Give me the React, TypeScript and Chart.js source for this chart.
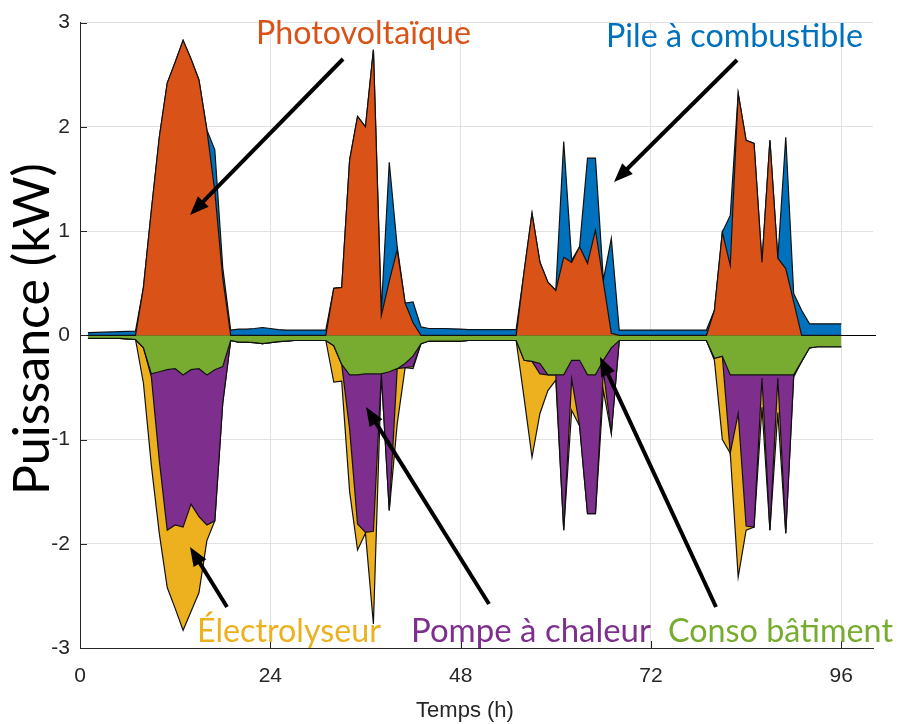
import React, { useEffect, useRef } from 'react';
import { Chart, registerables } from 'chart.js';

Chart.register(...registerables);

// Time axis (hours)
const hours = [
  1, 2, 3, 4, 5, 6, 7, 8, 9, 10, 11, 12,
  13, 14, 15, 16, 17, 18, 19, 20, 21, 22, 23, 24,
  25, 26, 27, 28, 29, 30, 31, 32, 33, 34, 35, 36,
  37, 38, 39, 40, 41, 42, 43, 44, 45, 46, 47, 48,
  49, 50, 51, 52, 53, 54, 55, 56, 57, 58, 59, 60,
  61, 62, 63, 64, 65, 66, 67, 68, 69, 70, 71, 72,
  73, 74, 75, 76, 77, 78, 79, 80, 81, 82, 83, 84,
  85, 86, 87, 88, 89, 90, 91, 92, 93, 94, 95, 96,
];

// Production (kW)
const photovoltaique = [
  0, 0, 0, 0, 0, 0, 0, 0.46, 1.2, 1.9, 2.42, 2.62,
  2.83, 2.65, 2.45, 1.97, 1.38, 0.55, 0, 0, 0, 0, 0, 0,
  0, 0, 0, 0, 0, 0, 0, 0.45, 0.46, 1.68, 2.1, 2.0,
  2.74, 0.19, 0.52, 0.82, 0.31, 0.12, 0, 0, 0, 0, 0, 0,
  0, 0, 0, 0, 0, 0, 0, 0.61, 1.17, 0.7, 0.51, 0.43,
  0.75, 0.7, 0.85, 0.69, 1.01, 0.51, 0.02, 0, 0, 0, 0, 0,
  0, 0, 0, 0, 0, 0, 0, 0.24, 0.99, 0.67, 2.32, 1.87,
  1.84, 0.7, 1.87, 0.74, 0.64, 0.32, 0, 0, 0, 0, 0, 0,
];

const pileCombustible = [
  0.025, 0.028, 0.03, 0.032, 0.035, 0.038, 0.04, 0, 0, 0, 0, 0,
  0, 0, 0, 0, 0.4, 0.1, 0.05, 0.06, 0.06, 0.065, 0.075, 0.065,
  0.055, 0.05, 0.05, 0.05, 0.05, 0.05, 0.05, 0, 0, 0, 0, 0,
  0, 0.05, 1.14, 0.03, 0, 0.2, 0.08, 0.065, 0.065, 0.065, 0.062, 0.06,
  0.055, 0.055, 0.055, 0.055, 0.055, 0.055, 0.055, 0, 0, 0, 0, 0,
  1.11, 0.02, 0, 1.01, 0.69, 0.02, 0.91, 0.05, 0.05, 0.05, 0.05, 0.05,
  0.05, 0.05, 0.05, 0.05, 0.05, 0.05, 0.05, 0, 0, 0.48, 0, 0,
  0, 0, 0, 0, 1.26, 0.08, 0.24, 0.11, 0.11, 0.11, 0.11, 0.11,
];

// Consumption (kW, negative)
const consoBatiment = [
  -0.03, -0.03, -0.03, -0.03, -0.03, -0.035, -0.04, -0.12, -0.37, -0.35, -0.33, -0.32,
  -0.38, -0.33, -0.32, -0.38, -0.33, -0.3, -0.05, -0.065, -0.065, -0.07, -0.08, -0.07,
  -0.06, -0.055, -0.05, -0.05, -0.05, -0.05, -0.05, -0.1, -0.28, -0.38, -0.38, -0.37,
  -0.37, -0.37, -0.35, -0.32, -0.27, -0.2, -0.08, -0.055, -0.055, -0.055, -0.055, -0.055,
  -0.05, -0.05, -0.05, -0.05, -0.05, -0.05, -0.05, -0.24, -0.25, -0.27, -0.38, -0.38,
  -0.38, -0.24, -0.24, -0.38, -0.38, -0.24, -0.12, -0.05, -0.05, -0.05, -0.05, -0.05,
  -0.05, -0.05, -0.05, -0.05, -0.05, -0.05, -0.05, -0.22, -0.2, -0.38, -0.38, -0.38,
  -0.38, -0.38, -0.38, -0.38, -0.38, -0.38, -0.25, -0.12, -0.11, -0.11, -0.11, -0.11,
];

const pompeChaleur = [
  0, 0, 0, 0, 0, 0, 0, 0, -0.03, -0.85, -1.54, -1.5,
  -1.46, -1.29, -1.42, -1.44, -1.45, -0.35, 0, 0, 0, 0, 0, 0,
  0, 0, 0, 0, 0, 0, 0, 0, 0, -0.52, -1.43, -1.52,
  -1.51, 0, -1.33, 0, -0.04, -0.1, 0, 0, 0, 0, 0, 0,
  0, 0, 0, 0, 0, 0, 0, 0, 0, -0.1, 0, 0,
  -1.49, -0.18, -0.63, -1.33, -1.33, -0.1, -0.82, 0, 0, 0, 0, 0,
  0, 0, 0, 0, 0, 0, 0, 0, 0, -0.75, -0.37, -1.45,
  -1.46, -0.03, -1.49, -0.03, -1.52, 0, 0, 0, 0, 0, 0, 0,
];

const electrolyseur = [
  0, 0, 0, 0, 0, 0, 0, -0.34, -0.85, -0.7, -0.55, -0.8,
  -0.99, -1.03, -0.73, -0.15, 0, 0, 0, 0, 0, 0, 0, 0,
  0, 0, 0, 0, 0, 0, 0, -0.35, -0.16, -0.6, -0.25, -0.01,
  -0.89, 0, 0, -0.53, 0, -0.02, 0, 0, 0, 0, 0, 0,
  0, 0, 0, 0, 0, 0, 0, -0.36, -0.92, -0.38, -0.15, -0.05,
  0, -0.3, 0, 0, 0, -0.19, 0, 0, 0, 0, 0, 0,
  0, 0, 0, 0, 0, 0, 0, -0.02, -0.8, 0, -1.57, -0.04,
  0, -0.28, 0, -0.33, 0, -0.02, 0, 0, 0, 0, 0, 0,
];

const xTickValues = [0, 24, 48, 72, 96];
const yTickValues = [-3, -2, -1, 0, 1, 2, 3];

const seriesNames = ['Photovoltaïque', 'Pile à combustible', 'Conso bâtiment', 'Pompe à chaleur', 'Électrolyseur'];
const xTitle = 'Temps (h)';
const yTitle = 'Puissance (kW)';

const COLORS = {
  pv: '#D95319',
  fc: '#0072BD',
  conso: '#77AC30',
  pac: '#7E2F8E',
  elec: '#EDB120',
};
const AXIS = '#262626';
const GRID = '#e2e2e2';
const EDGE = '#111111';
const LABEL_FONT = 'Lato, "Open Sans", sans-serif';

export default function App() {
  const ref = useRef<HTMLCanvasElement>(null);

  useEffect(() => {
    const toPts = (arr: number[]) => arr.map((v, i) => ({ x: hours[i], y: v }));

    const fitText = (
      ctx: CanvasRenderingContext2D,
      text: string,
      color: string,
      left: number,
      right: number,
      baseline: number,
    ) => {
      ctx.save();
      ctx.font = `100px ${LABEL_FONT}`;
      const w = ctx.measureText(text).width;
      const size = (100 * (right - left)) / w;
      ctx.font = `${size}px ${LABEL_FONT}`;
      ctx.fillStyle = color;
      ctx.textAlign = 'left';
      ctx.textBaseline = 'alphabetic';
      ctx.fillText(text, left, baseline);
      ctx.restore();
    };

    const arrow = (ctx: CanvasRenderingContext2D, x1: number, y1: number, x2: number, y2: number) => {
      const ang = Math.atan2(y2 - y1, x2 - x1);
      const headLen = 19;
      const headHalf = 7.5;
      const bx = x2 - headLen * Math.cos(ang);
      const by = y2 - headLen * Math.sin(ang);
      ctx.save();
      ctx.strokeStyle = '#000';
      ctx.fillStyle = '#000';
      ctx.lineWidth = 4;
      ctx.lineCap = 'butt';
      ctx.beginPath();
      ctx.moveTo(x1, y1);
      ctx.lineTo(bx + 2 * Math.cos(ang), by + 2 * Math.sin(ang));
      ctx.stroke();
      ctx.beginPath();
      ctx.moveTo(x2, y2);
      ctx.lineTo(bx + headHalf * Math.sin(ang), by - headHalf * Math.cos(ang));
      ctx.lineTo(bx - headHalf * Math.sin(ang), by + headHalf * Math.cos(ang));
      ctx.closePath();
      ctx.fill();
      ctx.restore();
    };

    const overlay = {
      id: 'overlay',
      afterDatasetsDraw(chart: any) {
        const ctx: CanvasRenderingContext2D = chart.ctx;
        const xs = chart.scales.x;
        const ys = chart.scales.y;
        const area = chart.chartArea;
        ctx.save();
        ctx.strokeStyle = AXIS;
        ctx.lineWidth = 1;
        ctx.beginPath();
        xTickValues.forEach((v) => {
          const px = Math.round(xs.getPixelForValue(v)) + 0.5;
          ctx.moveTo(px, area.bottom);
          ctx.lineTo(px, area.bottom - 7);
        });
        yTickValues.forEach((v) => {
          const py = Math.round(ys.getPixelForValue(v)) + 0.5;
          ctx.moveTo(area.left, py);
          ctx.lineTo(area.left + 7, py);
        });
        ctx.stroke();
        const y0 = Math.round(ys.getPixelForValue(0)) + 0.5;
        ctx.strokeStyle = '#000';
        ctx.beginPath();
        ctx.moveTo(xs.getPixelForValue(96), y0);
        ctx.lineTo(area.right + 3, y0);
        ctx.stroke();
        ctx.restore();
      },
      afterDraw(chart: any) {
        const ctx: CanvasRenderingContext2D = chart.ctx;
        arrow(ctx, 343, 59, 190, 215);
        arrow(ctx, 737, 60, 614, 182);
        arrow(ctx, 227, 607, 190, 547);
        arrow(ctx, 489, 604, 366, 407);
        arrow(ctx, 716, 607, 600, 357);
        fitText(ctx, seriesNames[0], COLORS.pv, 256, 471, 44);
        fitText(ctx, seriesNames[1], COLORS.fc, 606, 863, 47);
        fitText(ctx, seriesNames[4], COLORS.elec, 197, 381, 642);
        fitText(ctx, seriesNames[3], COLORS.pac, 411, 651, 642);
        fitText(ctx, seriesNames[2], COLORS.conso, 668, 893, 642);
        ctx.save();
        ctx.translate(49, 329);
        ctx.rotate(-Math.PI / 2);
        fitText(ctx, yTitle, '#000', -166, 166, 0);
        ctx.restore();
        ctx.save();
        ctx.font = '22px "Liberation Sans", Arial, sans-serif';
        ctx.fillStyle = AXIS;
        ctx.textAlign = 'center';
        ctx.textBaseline = 'alphabetic';
        ctx.fillText(xTitle, 465, 717);
        ctx.restore();
      },
    };

    const common = { pointRadius: 0, borderWidth: 1.2, borderColor: EDGE, tension: 0 };

    const chart = new Chart(ref.current as HTMLCanvasElement, {
      type: 'line',
      data: {
        datasets: [
          { ...common, label: seriesNames[0], data: toPts(photovoltaique), stack: 'prod', fill: 'origin', backgroundColor: COLORS.pv },
          { ...common, label: seriesNames[1], data: toPts(pileCombustible), stack: 'prod', fill: '-1', backgroundColor: COLORS.fc },
          { ...common, label: seriesNames[2], data: toPts(consoBatiment), stack: 'cons', fill: 'origin', backgroundColor: COLORS.conso },
          { ...common, label: seriesNames[3], data: toPts(pompeChaleur), stack: 'cons', fill: '-1', backgroundColor: COLORS.pac },
          { ...common, label: seriesNames[4], data: toPts(electrolyseur), stack: 'cons', fill: '-1', backgroundColor: COLORS.elec },
        ] as any,
      },
      options: {
        animation: false,
        responsive: false,
        layout: { padding: { top: 22, right: 25, left: 0, bottom: 0 } },
        plugins: {
          legend: { display: false },
          tooltip: { enabled: false },
        },
        scales: {
          x: {
            type: 'linear',
            min: 0,
            max: 100,
            afterBuildTicks: (s: any) => {
              s.ticks = xTickValues.map((v) => ({ value: v }));
            },
            afterFit: (s: any) => {
              s.height = 76;
            },
            ticks: {
              autoSkip: false,
              maxRotation: 0,
              padding: 16,
              color: AXIS,
              font: { family: '"Liberation Sans", Arial, sans-serif', size: 21 },
            },
            grid: { color: GRID, drawTicks: false, lineWidth: 1 },
            border: { display: true, color: AXIS, width: 1 },
          },
          y: {
            type: 'linear',
            stacked: true,
            min: -3,
            max: 3,
            afterBuildTicks: (s: any) => {
              s.ticks = yTickValues.map((v) => ({ value: v }));
            },
            afterFit: (s: any) => {
              s.width = 80;
            },
            ticks: {
              padding: 10,
              color: AXIS,
              font: { family: '"Liberation Sans", Arial, sans-serif', size: 21 },
            },
            grid: {
              color: (c: any) => (c.tick && c.tick.value === 0 ? '#000' : GRID),
              drawTicks: false,
              lineWidth: 1,
            },
            border: { display: true, color: AXIS, width: 1 },
          },
        },
      } as any,
      plugins: [overlay],
    });

    return () => chart.destroy();
  }, []);

  return (
    <canvas
      ref={ref}
      width={898}
      height={724}
      style={{ position: 'fixed', left: 0, top: 0, width: 898, height: 724, background: '#fff' }}
    />
  );
}
